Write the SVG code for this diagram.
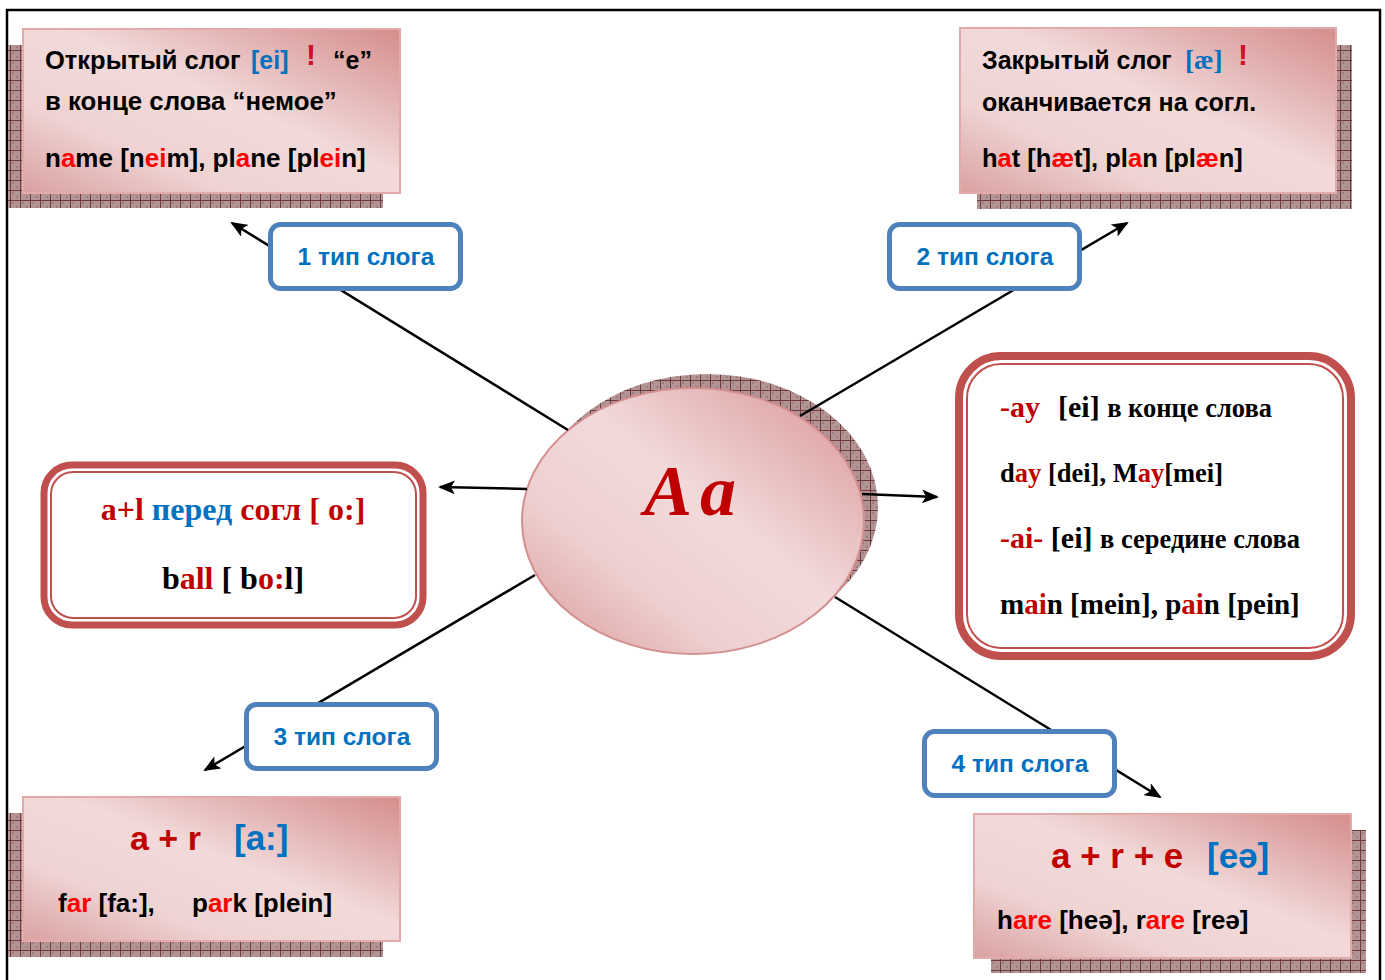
<svg xmlns="http://www.w3.org/2000/svg" width="1385" height="980" viewBox="0 0 1385 980">
<style>
.sans{font-family:"Liberation Sans",Arial,sans-serif;font-weight:bold;}
.serif{font-family:"Liberation Serif","Times New Roman",serif;font-weight:bold;}
.blk{fill:#000;}
.red{fill:#ff0000;}
.dred{fill:#c00000;}
.blue{fill:#0070c0;}
.pink{fill:url(#pg);stroke:#e3aaa9;stroke-width:2;}
.shadow{fill:url(#hatch);}
.lbl{fill:#fff;stroke:#4f81bd;stroke-width:5;}
.lbltxt{font-family:"Liberation Sans",Arial,sans-serif;font-weight:bold;font-size:24.5px;fill:#0070c0;text-anchor:middle;}
.outer{fill:#fff;stroke:#c0504d;}
.inner{fill:none;stroke:#c0504d;stroke-width:2;}
.conn{stroke:#000;stroke-width:2.5;fill:none;}
</style>
<defs>
<linearGradient id="pg" x1="1" y1="0" x2="0" y2="1">
<stop offset="0" stop-color="#d48d8c"/>
<stop offset="0.45" stop-color="#f2dada"/>
<stop offset="0.72" stop-color="#efd3d3"/>
<stop offset="1" stop-color="#d9a1a0"/>
</linearGradient>
<linearGradient id="eg" x1="1" y1="0" x2="0" y2="1">
<stop offset="0" stop-color="#d99594"/>
<stop offset="0.45" stop-color="#f2dadb"/>
<stop offset="0.7" stop-color="#eecfcf"/>
<stop offset="1" stop-color="#d89796"/>
</linearGradient>
<pattern id="hatch" width="10" height="10" patternUnits="userSpaceOnUse">
<rect width="10" height="10" fill="#b39494"/>
<rect x="2" y="2" width="2" height="2" fill="#a07c7c"/>
<rect x="6" y="6" width="2" height="2" fill="#a07c7c"/>
<path d="M0 0.5H10M0.5 0V10" stroke="#6e3a3b" stroke-width="1"/>
</pattern>
<marker id="arr" markerUnits="userSpaceOnUse" markerWidth="18" markerHeight="14" refX="15" refY="7" orient="auto">
<path d="M0,0 L17,7 L0,14 L4,7 z" fill="#000"/>
</marker>
</defs>
<rect x="0" y="0" width="1385" height="980" fill="#fff"/>
<path d="M7 985V10H1380V985" fill="none" stroke="#000" stroke-width="2.5"/>

<g id="center">
<ellipse class="shadow" cx="707" cy="507" rx="171" ry="133"/>
<ellipse cx="693" cy="521" rx="171" ry="133" fill="url(#eg)" stroke="#d38f8f" stroke-width="2"/>
<text x="694" y="515" text-anchor="middle" font-family="'Liberation Serif',serif" font-style="italic" font-weight="bold" font-size="72" fill="#c00000" letter-spacing="8">Aa</text>
</g>

<g id="connectors">
<line class="conn" x1="568" y1="430" x2="232" y2="223" marker-end="url(#arr)"/>
<line class="conn" x1="800" y1="416" x2="1127" y2="223" marker-end="url(#arr)"/>
<line class="conn" x1="535" y1="575" x2="205" y2="770" marker-end="url(#arr)"/>
<line class="conn" x1="835" y1="597" x2="1160" y2="797" marker-end="url(#arr)"/>
<line class="conn" x1="527" y1="489" x2="440" y2="487" marker-end="url(#arr)"/>
<line class="conn" x1="862" y1="494" x2="937" y2="497" marker-end="url(#arr)"/>
</g>

<g id="box-open">
<rect class="shadow" x="8" y="45" width="375" height="163"/>
<rect class="pink" x="23" y="29" width="377" height="164"/>
<text class="sans blk" x="45" y="69" font-size="25.5">Открытый слог</text>
<text class="sans blue" x="251" y="69" font-size="25">[ei]</text>
<text class="sans" x="306" y="65" font-size="30" fill="#d0102a">!</text>
<text class="sans blk" x="333" y="69" font-size="25">“e”</text>
<text class="sans blk" x="45" y="110" font-size="25.8">в конце слова “немое”</text>
<text class="sans blk" x="45" y="167" font-size="26">n<tspan class="red">a</tspan>me [n<tspan class="red">ei</tspan>m], pl<tspan class="red">a</tspan>ne [pl<tspan class="red">ei</tspan>n]</text>
</g>

<g id="box-closed">
<rect class="shadow" x="977" y="45" width="375" height="164"/>
<rect class="pink" x="960" y="28" width="376" height="165"/>
<text class="sans blk" x="982" y="69" font-size="25">Закрытый слог</text>
<text class="serif blue" x="1185" y="69" font-size="27">[æ]</text>
<text class="sans" x="1238" y="65" font-size="30" fill="#d0102a">!</text>
<text class="sans blk" x="982" y="111" font-size="25">оканчивается на согл.</text>
<text class="sans blk" x="982" y="167" font-size="25.5">h<tspan class="red">a</tspan>t [h<tspan class="red">æ</tspan>t], pl<tspan class="red">a</tspan>n [pl<tspan class="red">æ</tspan>n]</text>
</g>

<g id="box-al">
<rect class="outer" x="44" y="465" width="379" height="160" rx="28" stroke-width="7"/>
<rect class="inner" x="51" y="472" width="365" height="146" rx="22"/>
<text class="serif" x="233" y="520" font-size="32" text-anchor="middle"><tspan class="dred">a+l </tspan><tspan class="blue">перед </tspan><tspan class="dred">согл [ o:]</tspan></text>
<text class="serif blk" x="233" y="589" font-size="32" text-anchor="middle">b<tspan class="dred">all</tspan> [ b<tspan class="dred">o:</tspan>l]</text>
</g>

<g id="box-ay">
<rect class="outer" x="959" y="356" width="392" height="300" rx="42" stroke-width="8"/>
<rect class="inner" x="967" y="364" width="376" height="284" rx="34"/>
<text class="serif blk" x="1000" y="417" font-size="30"><tspan class="dred">-ay</tspan><tspan x="1058">[ei]</tspan> <tspan font-size="26.5">в конце слова</tspan></text>
<text class="serif blk" x="1000" y="482" font-size="26.5">d<tspan class="dred">ay</tspan> [dei], M<tspan class="dred">ay</tspan>[mei]</text>
<text class="serif blk" x="1000" y="548" font-size="30"><tspan class="dred">-ai-</tspan> [ei] <tspan font-size="26.5">в середине слова</tspan></text>
<text class="serif blk" x="1000" y="614" font-size="29">m<tspan class="dred">ai</tspan>n [mein], p<tspan class="dred">ai</tspan>n [pein]</text>
</g>

<g id="box-ar">
<rect class="shadow" x="8" y="813" width="375" height="144"/>
<rect class="pink" x="23" y="797" width="377" height="144"/>
<text class="sans dred" x="130" y="850" font-size="34">a + r</text>
<text class="sans blue" x="234" y="850" font-size="35" font-weight="normal">[a:]</text>
<text class="sans blk" x="58" y="912" font-size="26">f<tspan class="red">ar</tspan> [fa:],</text>
<text class="sans blk" x="192" y="912" font-size="26">p<tspan class="red">ar</tspan>k [plein]</text>
</g>

<g id="box-are">
<rect class="shadow" x="991" y="830" width="375" height="143"/>
<rect class="pink" x="974" y="814" width="377" height="144"/>
<text class="sans dred" x="1051" y="868" font-size="35">a + r + e</text>
<text class="sans blue" x="1207" y="868" font-size="35" font-weight="normal">[eə]</text>
<text class="sans blk" x="997" y="929" font-size="26">h<tspan class="red">are</tspan> [heə], r<tspan class="red">are</tspan> [reə]</text>
</g>

<g id="label1">
<rect class="lbl" x="270.5" y="224.5" width="190" height="64" rx="10"/>
<text class="lbltxt" x="366" y="265">1 тип слога</text>
</g>
<g id="label2">
<rect class="lbl" x="889.5" y="224.5" width="190" height="64" rx="10"/>
<text class="lbltxt" x="985" y="265">2 тип слога</text>
</g>
<g id="label3">
<rect class="lbl" x="246.5" y="704.5" width="190" height="64" rx="10"/>
<text class="lbltxt" x="342" y="745">3 тип слога</text>
</g>
<g id="label4">
<rect class="lbl" x="924.5" y="731.5" width="190" height="64" rx="10"/>
<text class="lbltxt" x="1020" y="772">4 тип слога</text>
</g>
</svg>
